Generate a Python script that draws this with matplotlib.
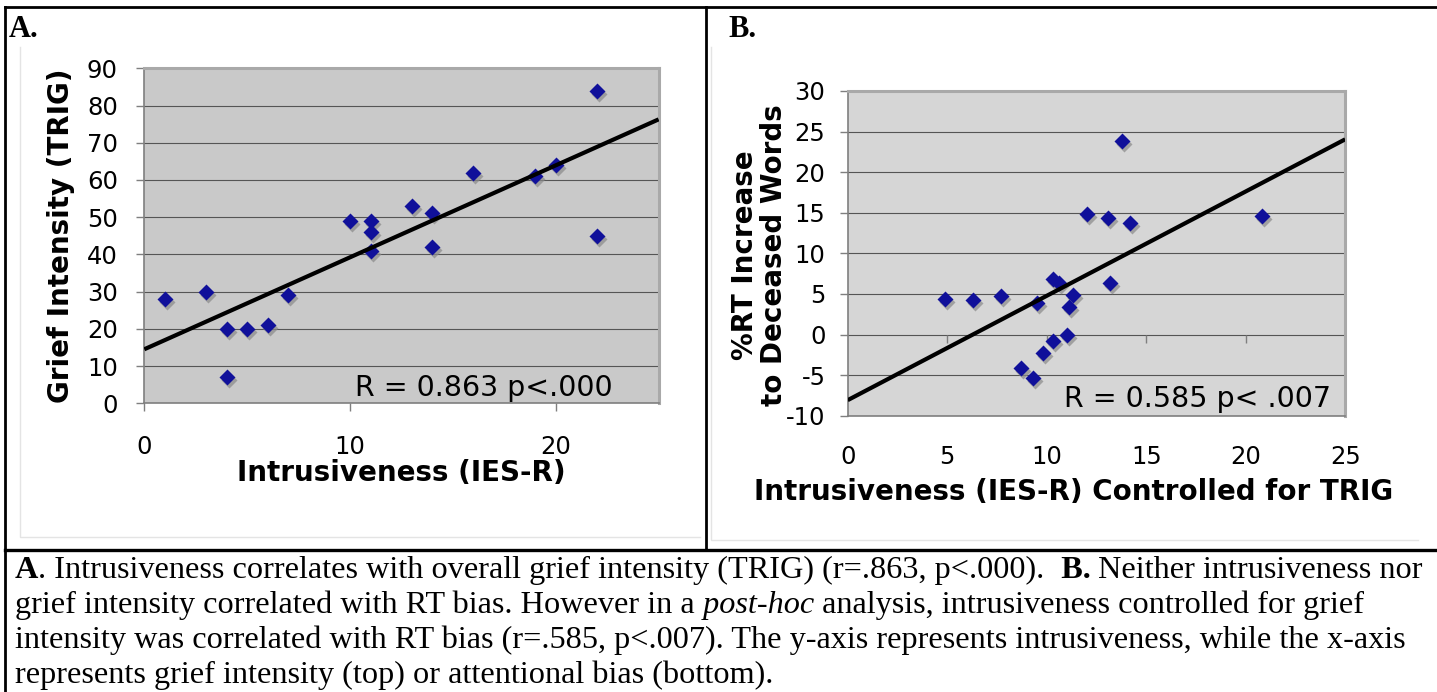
import matplotlib.pyplot as plt
import numpy as np
from matplotlib.transforms import offset_copy

plt.rcParams['axes.unicode_minus'] = False

W, H = 1437, 692

# A: intrusiveness (IES-R) vs grief intensity (TRIG)
ies_a = [1, 3, 4, 4, 5, 6, 7, 10, 11, 11, 11, 13, 14, 14, 16, 19, 20, 22, 22]
trig_a = [28, 30, 20, 7, 20, 21, 29, 49, 49, 46, 41, 53, 51, 42, 62, 61, 64, 84, 45]

# B: intrusiveness controlled for TRIG vs %RT increase
ies_b = [4.9, 6.3, 7.7, 9.5, 10.3, 10.6, 11.3, 11.1, 11.0, 10.3, 9.8, 8.7, 9.3,
         12.0, 13.1, 14.2, 13.2, 13.8, 20.8]
rt_b = [4.4, 4.2, 4.8, 3.9, 6.8, 6.3, 4.9, 3.4, -0.1, -0.8, -2.3, -4.1, -5.3,
        14.8, 14.3, 13.7, 6.3, 23.8, 14.6]

xticks_a = [0, 10, 20]
yticks_a = list(range(0, 91, 10))
xticks_b = list(range(0, 26, 5))
yticks_b = list(range(-10, 31, 5))

label_a = 'R = 0.863 p<.000'
label_b = 'R = 0.585 p< .007'

caption = [
    [('A', 'bold', 'normal'),
     ('. Intrusiveness correlates with overall grief intensity (TRIG) (r=.863, p<.000).', 'normal', 'normal'),
     ('  B.', 'bold', 'normal'),
     (' Neither intrusiveness nor', 'normal', 'normal')],
    [('grief intensity correlated with RT bias. However in a', 'normal', 'normal'),
     (' post-hoc', 'normal', 'italic'),
     (' analysis, intrusiveness controlled for grief', 'normal', 'normal')],
    [('intensity was correlated with RT bias (r=.585, p<.007). The y-axis represents intrusiveness, while the x-axis',
      'normal', 'normal')],
    [('represents grief intensity (top) or attentional bias (bottom).', 'normal', 'normal')],
]

MARK = '#10109a'


def px_box(l, t, r, b):
    return [l / W, 1 - b / H, (r - l) / W, (b - t) / H]


fig = plt.figure(figsize=(W / 100, H / 100), dpi=100)

# overlay in pixel coordinates for the table frame and caption
cap = fig.add_axes([0, 0, 1, 1], zorder=-1)
cap.set_axis_off()
cap.set_xlim(0, W)
cap.set_ylim(H, 0)

cap.plot([5, W], [7, 7], color='black', lw=2)
cap.plot([5, 5], [7, H], color='black', lw=2)
cap.plot([706, 706], [7, 550], color='black', lw=2)
cap.plot([5, W], [550, 550], color='black', lw=2.4)
# faint chart-area borders
cap.plot([20, 20, 700], [47, 537, 537], color='#e4e4e4', lw=1)
cap.plot([711, 711, 1418], [47, 540, 540], color='#e4e4e4', lw=1)

cap.text(9, 37, 'A.', family='Liberation Serif', weight='bold', size=22, va='baseline')
cap.text(728, 37, 'B.', family='Liberation Serif', weight='bold', size=22, va='baseline')

baselines = [578, 613, 648, 683.5]
for y, pieces in zip(baselines, caption):
    prev = None
    for s, wt, st in pieces:
        kw = dict(family='Liberation Serif', size=23.2, weight=wt, style=st, ha='left')
        if prev is None:
            prev = cap.text(15, y, s, va='baseline', **kw)
        else:
            prev = cap.annotate(s, xy=(1, 0), xycoords=prev, va='bottom', **kw)


def style(ax, bg):
    ax.set_facecolor(bg)
    ax.grid(axis='y', color='#555555', lw=0.8)
    ax.grid(axis='x', visible=False)
    ax.set_axisbelow(True)
    for s in ('left', 'bottom'):
        ax.spines[s].set_color('#7f7f7f')
        ax.spines[s].set_linewidth(1.2)
    for s in ('top', 'right'):
        ax.spines[s].set_color('#a9a9a9')
        ax.spines[s].set_linewidth(2.2)
    ax.tick_params(labelsize=17.5, color='#7f7f7f', width=1, length=6, direction='out')


def scatter(ax, x, y):
    shadow = offset_copy(ax.transData, fig=fig, x=2, y=-3, units='dots')
    ax.plot(x, y, 'D', ms=8.5, color='#8a8a8a', alpha=0.7, mec='none', transform=shadow)
    ax.plot(x, y, 'D', ms=8.5, color=MARK, mec='none')


def trend(ax, x, y, x0, x1):
    k, b = np.polyfit(x, y, 1)
    xs = np.array([x0, x1])
    ax.plot(xs, k * xs + b, color='black', lw=3, solid_capstyle='butt', zorder=5)


# panel A
ax_a = fig.add_axes(px_box(144.3, 68.3, 658.6, 403.3))
style(ax_a, '#c9c9c9')
scatter(ax_a, ies_a, trig_a)
trend(ax_a, ies_a, trig_a, 0, 25)
ax_a.set_xlim(0, 25)
ax_a.set_ylim(0, 90)
ax_a.set_xticks(xticks_a)
ax_a.set_yticks(yticks_a)
ax_a.tick_params(axis='y', pad=13)
ax_a.tick_params(axis='x', pad=17)
ax_a.set_xlabel('Intrusiveness (IES-R)', fontsize=20, weight='bold', va='center')
ax_a.xaxis.set_label_coords(0.5, -0.208)
ax_a.set_ylabel('Grief Intensity (TRIG)', fontsize=20, weight='bold', va='center')
ax_a.yaxis.set_label_coords(-0.162, 0.5)
ax_a.text(0.911, 0.022, label_a, transform=ax_a.transAxes, ha='right', va='baseline',
          fontsize=20.5)

# panel B
ax_b = fig.add_axes(px_box(847.7, 91, 1345.2, 415.7))
style(ax_b, '#d6d6d6')
ax_b.vlines(xticks_b[1:-1], -1, 0, color='#7f7f7f', lw=1)
scatter(ax_b, ies_b, rt_b)
trend(ax_b, ies_b, rt_b, 0, 25)
ax_b.set_xlim(0, 25)
ax_b.set_ylim(-10, 30)
ax_b.set_xticks(xticks_b)
ax_b.set_yticks(yticks_b)
ax_b.tick_params(axis='x', length=0, pad=29 * 0.72)
ax_b.tick_params(axis='y', pad=10)
ax_b.set_xlabel('Intrusiveness (IES-R) Controlled for TRIG', fontsize=20, weight='bold',
                va='center')
ax_b.xaxis.set_label_coords(0.453, -0.234)
ax_b.set_ylabel('%RT Increase\nto Deceased Words', fontsize=20, weight='bold', va='center',
                linespacing=1.05)
ax_b.yaxis.set_label_coords(-0.178, 0.495)
ax_b.text(0.971, 0.027, label_b, transform=ax_b.transAxes, ha='right', va='baseline',
          fontsize=20.5)

fig.savefig('out.png', dpi=100)
